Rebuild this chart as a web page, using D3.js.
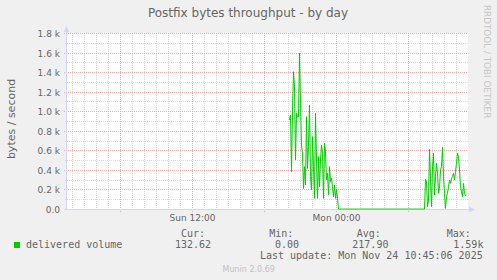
<!DOCTYPE html>
<html><head><meta charset="utf-8">
<script src="https://cdn.jsdelivr.net/npm/d3@7"></script>
<style>body{margin:0;background:#f0f0f0}svg{display:block}</style>
</head><body>
<script>
const chartTitle = "Postfix bytes throughput - by day";
const yAxisTitle = "bytes / second";
const yTickValues = [0, 200, 400, 600, 800, 1000, 1200, 1400, 1600, 1800];
const yTickLabels = ["0.0", "0.2 k", "0.4 k", "0.6 k", "0.8 k", "1.0 k", "1.2 k", "1.4 k", "1.6 k", "1.8 k"];
const xTickTimes = ["2025-11-23T12:00:00Z", "2025-11-24T00:00:00Z"];
const xTickLabels = ["Sun 12:00", "Mon 00:00"];
const timeWindow = ["2025-11-23T01:32:30Z", "2025-11-24T10:52:30Z"];
const seriesName = "delivered volume";
const firstSample = "2025-11-23T20:05:00Z";
const sampleStepMinutes = 5;
const deliveredVolume = [
  910, 961, 382, 1012, 1404, 1251, 501, 978, 944, 944,
  1592, 1081, 654, 569, 211, 433, 245, 944, 416, 637,
  1064, 331, 194, 740, 433, 109, 978, 501, 109, 535,
  228, 501, 654, 569, 109, 672, 586, 297, 365, 143,
  433, 280, 314, 228, 126, 245, 109, 201, 109, 0,
  0,0,0,0,0,0,0,0,0,0,0,0,0,0,0,0,0,0,0,0,
  0,0,0,0,0,0,0,0,0,0,0,0,0,0,0,0,0,0,0,0,
  0,0,0,0,0,0,0,0,0,0,0,0,0,0,0,0,0,0,0,0,
  0,0,0,0,0,0,0,0,0,0,0,0,0,0,0,0,0,0,0,0,
  0,0,0,0,0,
  0, 303, 280, 24, 92, 610, 297, 24, 433, 569,
  143, 331, 467, 365, 160, 211, 399, 433, 631, 331,
  160, 7, 126, 160, 228, 297, 262, 314, 331, 365,
  297, 382, 467, 569, 535, 399, 228, 177, 126, 262,
  160, 132.62
];
const legendHeaders = ["Cur:", "Min:", "Avg:", "Max:"];
const legendValues = ["132.62", "0.00", "217.90", "1.59k"];
const lastUpdate = "Last update: Mon Nov 24 10:45:06 2025";
const footer = "Munin 2.0.69";
const watermark = "RRDTOOL / TOBI OETIKER";

const W = 497, H = 280;
const svg = d3.select("body").append("svg").attr("width", W).attr("height", H);
svg.append("rect").attr("width", W).attr("height", H).attr("fill", "#f0f0f0");

const pL = 67, pR = 467, pT = 33, pB = 209;
const x = d3.scaleUtc().domain(timeWindow.map(d => new Date(d))).range([pL, pR]);
const y = d3.scaleLinear().domain([0, 1800]).range([pB + 0.5, pT + 0.5]);
const px = v => Math.floor(v) + 0.5;

svg.append("rect").attr("x", pL).attr("y", pT).attr("width", pR - pL + 1).attr("height", pB - pT)
  .attr("fill", "#ffffff");

const grid = svg.append("g").attr("shape-rendering", "crispEdges");
const hours = d3.utcHour.range(x.domain()[0], x.domain()[1]);
hours.forEach(h => {
  const major = h.getUTCHours() % 6 === 0;
  const xx = px(x(h));
  grid.append("line").attr("x1", xx).attr("x2", xx)
    .attr("y1", pT).attr("y2", pB + (major ? 3 : 2))
    .attr("stroke", major ? "#f4a8a8" : "#d9d9d9").attr("stroke-dasharray", "1,1");
});
d3.range(100, 1801, 100).forEach(v => {
  const major = v % 200 === 0;
  const yy = px(y(v));
  grid.append("line").attr("x1", pL - (major ? 3 : 2)).attr("x2", pR + 1)
    .attr("y1", yy).attr("y2", yy)
    .attr("stroke", major ? "#f4a8a8" : "#d9d9d9").attr("stroke-dasharray", "1,1");
});

const axisCol = "#cfd6f8";
svg.append("line").attr("x1", pL - 0.5).attr("x2", pL - 0.5).attr("y1", pT - 3).attr("y2", pB + 1)
  .attr("stroke", axisCol);
svg.append("line").attr("x1", pL - 3).attr("x2", pR + 3).attr("y1", pB + 0.5).attr("y2", pB + 0.5)
  .attr("stroke", axisCol);
svg.append("path").attr("d", `M${pL - 3.5},${pT - 1} L${pL - 0.5},${pT - 7} L${pL + 2.5},${pT - 1} Z`).attr("fill", axisCol);
svg.append("path").attr("d", `M${pR + 2},${pB - 2.5} L${pR + 8},${pB + 0.5} L${pR + 2},${pB + 3.5} Z`).attr("fill", axisCol);

const font = "'DejaVu Sans', sans-serif";
const mono = "'DejaVu Sans Mono', monospace";
const txt = "#666666";
yTickValues.forEach((v, i) => {
  svg.append("text").attr("x", 60).attr("y", Math.floor(y(v)) + 3.5)
    .attr("text-anchor", "end").attr("font-family", font).attr("font-size", 9).attr("fill", txt)
    .text(yTickLabels[i]);
});
xTickTimes.forEach((t, i) => {
  svg.append("text").attr("x", px(x(new Date(t)))).attr("y", 221)
    .attr("text-anchor", "middle").attr("font-family", font).attr("font-size", 9).attr("fill", txt)
    .text(xTickLabels[i]);
});

const t0 = new Date(firstSample).getTime();
const pts = deliveredVolume.map((v, i) => ({t: new Date(t0 + i * sampleStepMinutes * 60000), v}));
svg.append("path").datum(pts)
  .attr("d", d3.line().x(d => x(d.t)).y(d => y(d.v) - 0.5))
  .attr("fill", "none").attr("stroke", "#00cc00").attr("stroke-width", 1);

svg.append("text").attr("x", 248).attr("y", 17).attr("text-anchor", "middle")
  .attr("font-family", font).attr("font-size", 12).attr("fill", txt).text(chartTitle);
svg.append("text").attr("transform", "translate(15,119) rotate(-90)").attr("text-anchor", "middle")
  .attr("font-family", font).attr("font-size", 11).attr("fill", txt).text(yAxisTitle);
svg.append("text").attr("transform", "translate(484,5) rotate(90)").attr("text-anchor", "start")
  .attr("font-family", font).attr("font-size", 8.8).attr("fill", "#c8c8c8").text(watermark);

const headerX = [181, 269.3, 356.7, 446.7];
const valueX = [175, 275, 352.3, 453.3];
legendHeaders.forEach((h, i) => {
  svg.append("text").attr("x", headerX[i]).attr("y", 237).attr("font-family", mono).attr("font-size", 10)
    .attr("fill", txt).text(h);
  svg.append("text").attr("x", valueX[i]).attr("y", 248).attr("font-family", mono).attr("font-size", 10)
    .attr("fill", txt).text(legendValues[i]);
});
svg.append("rect").attr("x", 14).attr("y", 242).attr("width", 6).attr("height", 6).attr("fill", "#00cc00");
svg.append("text").attr("x", 26).attr("y", 248).attr("font-family", mono).attr("font-size", 10)
  .attr("fill", txt).text(seriesName);
svg.append("text").attr("x", 482.7).attr("y", 259).attr("text-anchor", "end").attr("font-family", mono)
  .attr("font-size", 10).attr("fill", txt).text(lastUpdate);
svg.append("text").attr("x", 248.7).attr("y", 272).attr("text-anchor", "middle").attr("font-family", font)
  .attr("font-size", 8).attr("fill", "#c0c0c0").text(footer);
</script>
</body></html>
